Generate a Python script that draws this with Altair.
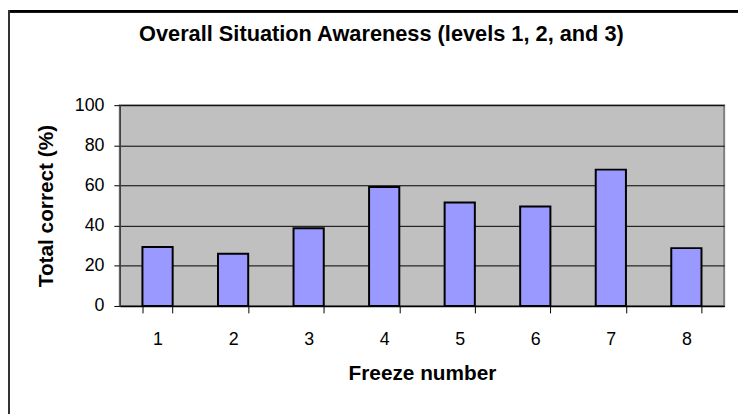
import altair as alt
import pandas as pd

freeze = ["1", "2", "3", "4", "5", "6", "7", "8"]
correct = [29.4, 26.0, 38.7, 59.2, 51.5, 49.5, 67.9, 28.8]

df = pd.DataFrame({"freeze": freeze, "correct": correct})

W, H = 611, 203
FONT = "Liberation Sans"

bars = alt.Chart(df).mark_bar(
    fill="#9999FF", stroke="black", strokeWidth=2
).encode(
    x=alt.X("freeze:N", sort=freeze,
            scale=alt.Scale(paddingInner=0.6, paddingOuter=0.3),
            axis=alt.Axis(title="Freeze number", labelAngle=0, tickBand="extent",
                          tickSize=7, tickColor="black", domainColor="black",
                          domainWidth=1.5, labelPadding=18, titlePadding=14,
                          labelFontSize=18, titleFontSize=21, labelFont=FONT,
                          titleFont=FONT, titleFontWeight="bold",
                          labelColor="black", titleColor="black", grid=False)),
    y=alt.Y("correct:Q", scale=alt.Scale(domain=[0, 100]),
            axis=alt.Axis(title="Total correct (%)", values=[0, 20, 40, 60, 80, 100],
                          tickSize=6, tickColor="black", domainColor="#404040",
                          domainWidth=1.5, labelPadding=10, titlePadding=18,
                          labelFontSize=18, titleFontSize=21, labelFont=FONT,
                          titleFont=FONT, titleFontWeight="bold",
                          labelColor="black", titleColor="black",
                          grid=True, gridColor="black", gridWidth=1, gridOpacity=1)),
)

frame_top = alt.Chart(df).mark_rule(color="black", strokeWidth=2).encode(
    x=alt.value(-113), x2=alt.value(640), y=alt.value(-95)
)
frame_left = alt.Chart(df).mark_rule(color="#333333", strokeWidth=2).encode(
    x=alt.value(-112), y=alt.value(-96), y2=alt.value(320)
)

chart = alt.layer(bars, frame_top, frame_left).properties(
    width=W, height=H,
    title=alt.Title("Overall Situation Awareness (levels 1, 2, and 3)",
                    font=FONT, fontSize=22, fontWeight="bold", color="black",
                    baseline="alphabetic", offset=0, dx=-41, dy=54),
    autosize=alt.AutoSizeParams(type="none"),
    padding={"left": 113, "top": 96, "right": 14, "bottom": 107},
).configure(
    background="white",
    view=alt.ViewConfig(fill="#C0C0C0", stroke="#808080", strokeWidth=2),
)

chart.save("out.html", embed_options={"renderer": "svg", "actions": False})
